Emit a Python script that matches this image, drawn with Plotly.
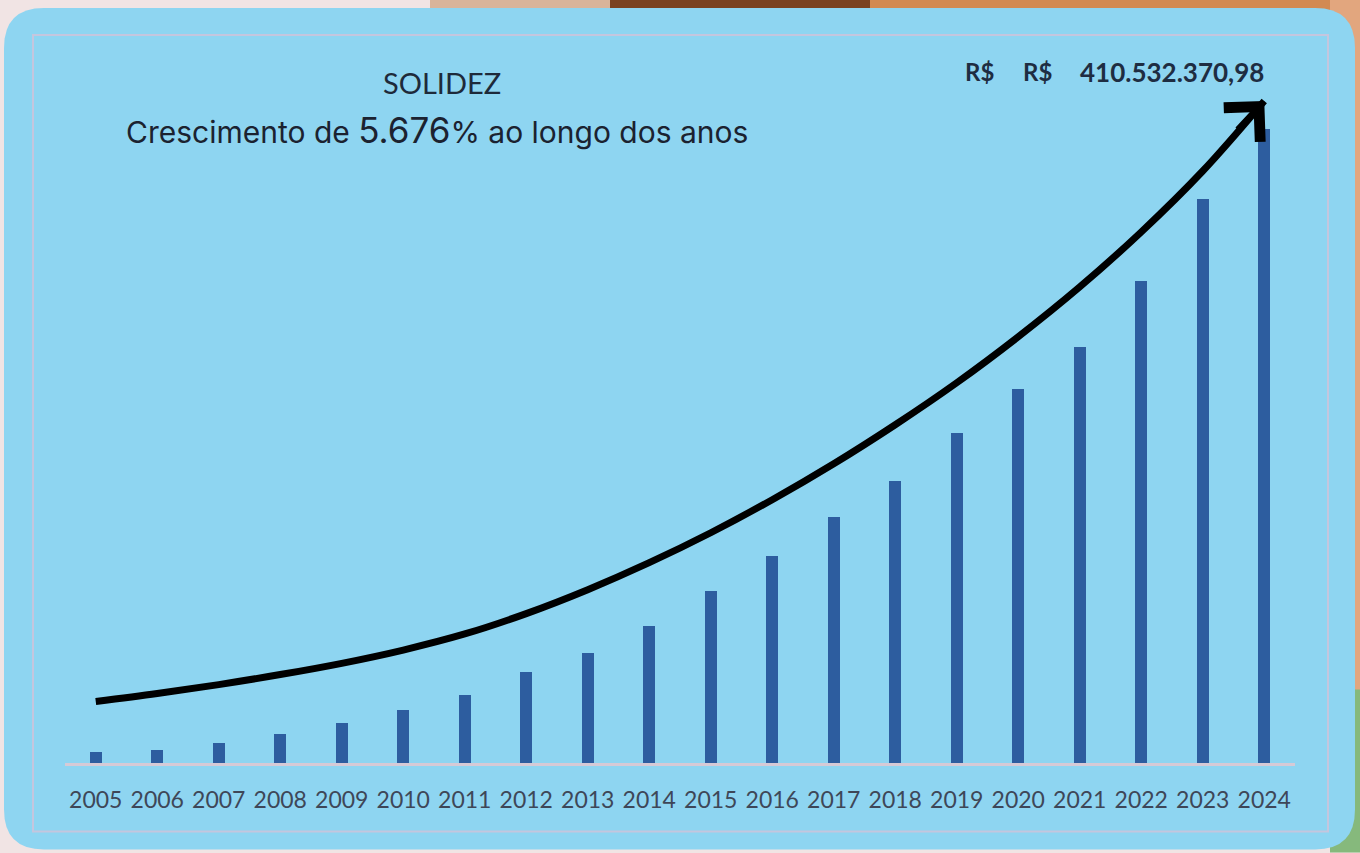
import plotly.graph_objects as go

# ---------------- data ----------------
years = list(range(2005, 2025))
year_labels = [str(y) for y in years]
# bar values, in millions of R$
revenue_millions = [7.1, 8.7, 12.9, 18.8, 25.7, 34.3, 44.1, 59.1, 71.6, 88.5,
                    111.6, 134.2, 159.7, 182.8, 214.1, 242.2, 269.7, 312.5, 365.2, 410.53]
# decorative growth curve drawn above the bars, in millions of R$
trend_millions = [39.8, 45.0, 50.8, 57.3, 64.6, 73.2, 83.6, 96.8, 112.3, 129.8,
                  149.2, 170.6, 193.9, 219.2, 246.4, 276.2, 308.5, 344.1, 383.6, 429.0]

title_text = "SOLIDEZ"
subtitle_pre = "Crescimento de "
growth_text = "5.676"
subtitle_post = "% ao longo dos anos"
currency = "R$"
total_label = "410.532.370,98"

# ---------------- geometry ----------------
W, H = 1360, 853
M_L, M_R, M_T, M_B = 65, 65, 60, 89.5
PW = W - M_L - M_R
PH = H - M_T - M_B
Y_MAX = revenue_millions[-1] * PH / 634.0


def px(x):
    return (x - M_L) / PW


def py(y):
    return (H - M_B - y) / PH


def rounded_rect(x0, y0, x1, y1, r):
    pts = [
        ("M", [(x0 + r, y0)]),
        ("L", [(x1 - r, y0)]),
        ("Q", [(x1, y0), (x1, y0 + r)]),
        ("L", [(x1, y1 - r)]),
        ("Q", [(x1, y1), (x1 - r, y1)]),
        ("L", [(x0 + r, y1)]),
        ("Q", [(x0, y1), (x0, y1 - r)]),
        ("L", [(x0, y0 + r)]),
        ("Q", [(x0, y0), (x0 + r, y0)]),
    ]
    s = ""
    for cmd, ps in pts:
        s += cmd + " " + " ".join(f"{px(a):.5f},{py(b):.5f}" for a, b in ps) + " "
    return s + "Z"


def rect(x0, y0, x1, y1, fill, line=None, lw=0, layer="below"):
    return dict(type="rect", xref="paper", yref="paper",
                x0=px(x0), x1=px(x1), y0=py(y1), y1=py(y0),
                fillcolor=fill, line=dict(color=line or "rgba(0,0,0,0)", width=lw),
                layer=layer)


shapes = [
    # photo-like surroundings
    rect(430, 0, 620, 24, "#D9B49A"),
    rect(610, 0, 880, 24, "#7A4220"),
    rect(870, 0, 1360, 24, "#D28A52"),
    rect(1330, 0, 1360, 700, "#E2A67E"),
    rect(1330, 690, 1360, 853, "#86B97C"),
    # rounded light-blue panel
    dict(type="path", xref="paper", yref="paper",
         path=rounded_rect(4, 8, 1355, 850, 40),
         fillcolor="#8ED5F1", line=dict(color="rgba(0,0,0,0)", width=0), layer="below"),
    # inner frame
    rect(33, 35, 1328, 832, "rgba(0,0,0,0)", line="#C4C6DE", lw=2),
]

fig = go.Figure()

fig.add_trace(go.Bar(
    x=years, y=revenue_millions, width=0.2,
    marker=dict(color="#2D5D9F", line=dict(width=0)),
    showlegend=False, hoverinfo="skip",
))

fig.add_trace(go.Scatter(
    x=years, y=trend_millions, mode="lines",
    line=dict(color="#000000", width=7, shape="spline", smoothing=1.0),
    showlegend=False, hoverinfo="skip", cliponaxis=False,
))

annotations = [
    dict(x=years[-1], y=trend_millions[-1], xref="x", yref="y",
         ax=-28, ay=30, showarrow=True, arrowhead=4, arrowsize=1.6,
         arrowwidth=6, arrowcolor="#000000", standoff=0, text=""),
    dict(x=px(442), y=py(83), xref="paper", yref="paper", showarrow=False,
         text=title_text, xanchor="center", yanchor="middle",
         font=dict(family="Lato", size=29, color="#1E2A3A")),
    dict(x=px(124), y=py(130), xref="paper", yref="paper", showarrow=False,
         text=(subtitle_pre + f"<span style='font-size:35px'>{growth_text}</span>"
               + subtitle_post),
         xanchor="left", yanchor="middle",
         font=dict(family="Inter", size=30, color="#1B2230")),
    dict(x=px(963), y=py(72), xref="paper", yref="paper", showarrow=False,
         text=f"<b>{currency}</b>", xanchor="left", yanchor="middle",
         font=dict(family="Lato", size=24, color="#1E2D42")),
    dict(x=px(1021), y=py(72), xref="paper", yref="paper", showarrow=False,
         text=f"<b>{currency}</b>", xanchor="left", yanchor="middle",
         font=dict(family="Lato", size=24, color="#1E2D42")),
    dict(x=px(1266), y=py(72), xref="paper", yref="paper", showarrow=False,
         text=f"<b>{total_label}</b>", xanchor="right", yanchor="middle",
         font=dict(family="Lato", size=26, color="#1E2D42")),
]

fig.update_layout(
    width=W, height=H,
    margin=dict(l=M_L, r=M_R, t=M_T, b=M_B, pad=0),
    paper_bgcolor="#F1E4E4",
    plot_bgcolor="rgba(0,0,0,0)",
    shapes=shapes,
    annotations=annotations,
    bargap=0.0,
    xaxis=dict(
        range=[years[0] - 0.5, years[-1] + 0.5],
        tickmode="array", tickvals=years, ticktext=year_labels,
        showgrid=False, zeroline=False,
        showline=True, linecolor="#D6CAD6", linewidth=3,
        ticks="", ticklabelstandoff=14,
        tickfont=dict(family="Lato", size=23, color="#3E4758"),
        fixedrange=True,
    ),
    yaxis=dict(
        range=[0, Y_MAX], visible=False, showgrid=False, zeroline=False,
        fixedrange=True,
    ),
)

fig.write_html(
    "out.html",
    config={"displayModeBar": False},
    post_script="document.body.style.margin='0';document.body.style.overflow='hidden';",
)
